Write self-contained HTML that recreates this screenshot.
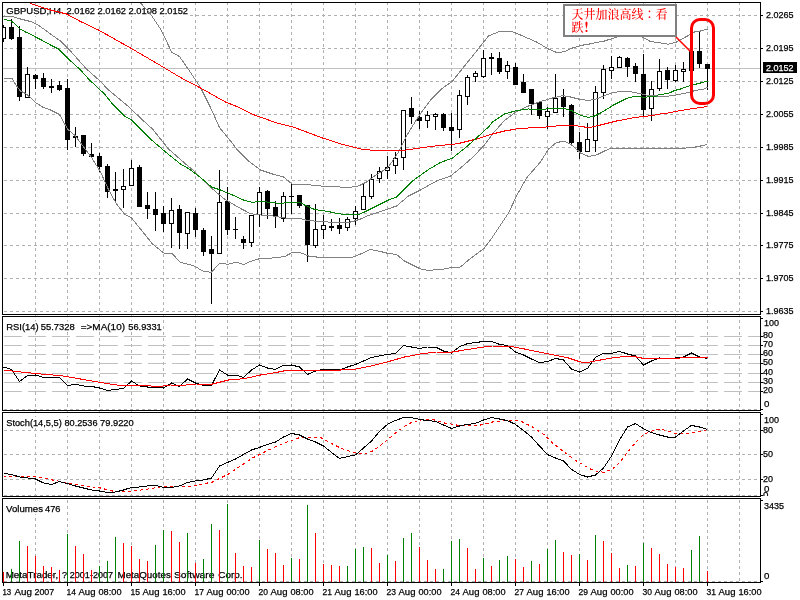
<!DOCTYPE html>
<html><head><meta charset="utf-8"><title>GBPUSD,H4</title>
<style>html,body{margin:0;padding:0;background:#fff}body{width:800px;height:600px;overflow:hidden}svg{display:block}text{font-family:"Liberation Sans","Noto Sans CJK SC",sans-serif;font-size:9.7px;fill:#000;stroke:#000;stroke-width:0.25px}.cn{font-family:"Liberation Serif","Noto Serif CJK SC",serif;font-size:12px;fill:#f00;font-weight:500;stroke:none}.jp{font-family:"Liberation Serif","Noto Serif CJK JP","Noto Serif CJK SC",serif}</style></head><body>
<svg width="800" height="600" viewBox="0 0 800 600">
<rect width="800" height="600" fill="#fff"/>
<g shape-rendering="crispEdges" stroke="#b0b0b0" stroke-width="1" stroke-dasharray="3 3" fill="none">
<line x1="35.5" y1="2" x2="35.5" y2="582"/>
<line x1="67.5" y1="2" x2="67.5" y2="582"/>
<line x1="99.5" y1="2" x2="99.5" y2="582"/>
<line x1="131.5" y1="2" x2="131.5" y2="582"/>
<line x1="163.5" y1="2" x2="163.5" y2="582"/>
<line x1="195.5" y1="2" x2="195.5" y2="582"/>
<line x1="227.5" y1="2" x2="227.5" y2="582"/>
<line x1="259.5" y1="2" x2="259.5" y2="582"/>
<line x1="291.5" y1="2" x2="291.5" y2="582"/>
<line x1="323.5" y1="2" x2="323.5" y2="582"/>
<line x1="355.5" y1="2" x2="355.5" y2="582"/>
<line x1="387.5" y1="2" x2="387.5" y2="582"/>
<line x1="419.5" y1="2" x2="419.5" y2="582"/>
<line x1="451.5" y1="2" x2="451.5" y2="582"/>
<line x1="483.5" y1="2" x2="483.5" y2="582"/>
<line x1="515.5" y1="2" x2="515.5" y2="582"/>
<line x1="547.5" y1="2" x2="547.5" y2="582"/>
<line x1="579.5" y1="2" x2="579.5" y2="582"/>
<line x1="611.5" y1="2" x2="611.5" y2="582"/>
<line x1="643.5" y1="2" x2="643.5" y2="582"/>
<line x1="675.5" y1="2" x2="675.5" y2="582"/>
<line x1="707.5" y1="2" x2="707.5" y2="582"/>
<line x1="739.5" y1="2" x2="739.5" y2="582"/>
<line x1="4" y1="15.5" x2="760" y2="15.5"/>
<line x1="4" y1="48.5" x2="760" y2="48.5"/>
<line x1="4" y1="81.5" x2="760" y2="81.5"/>
<line x1="4" y1="114.5" x2="760" y2="114.5"/>
<line x1="4" y1="147.5" x2="760" y2="147.5"/>
<line x1="4" y1="180.5" x2="760" y2="180.5"/>
<line x1="4" y1="213.5" x2="760" y2="213.5"/>
<line x1="4" y1="245.5" x2="760" y2="245.5"/>
<line x1="4" y1="278.5" x2="760" y2="278.5"/>
<line x1="4" y1="311.5" x2="760" y2="311.5"/>
<line x1="4" y1="430.5" x2="760" y2="430.5"/>
<line x1="4" y1="454.5" x2="760" y2="454.5"/>
<line x1="4" y1="479.5" x2="760" y2="479.5"/>
<line x1="4" y1="495.5" x2="760" y2="495.5"/>
<line x1="4" y1="409.5" x2="760" y2="409.5"/>
<line x1="4" y1="581.5" x2="760" y2="581.5"/>
</g>
<g shape-rendering="crispEdges" stroke="#c0c0c0" stroke-width="1" stroke-dasharray="18 6" fill="none">
<line x1="4" y1="336.5" x2="760" y2="336.5"/>
<line x1="4" y1="345.5" x2="760" y2="345.5"/>
<line x1="4" y1="354.5" x2="760" y2="354.5"/>
<line x1="4" y1="363.5" x2="760" y2="363.5"/>
<line x1="4" y1="373.5" x2="760" y2="373.5"/>
<line x1="4" y1="382.5" x2="760" y2="382.5"/>
<line x1="4" y1="391.5" x2="760" y2="391.5"/>
</g>
<line x1="3" y1="68.5" x2="760" y2="68.5" stroke="#c0c0c0" stroke-width="1" shape-rendering="crispEdges"/>
<rect x="5" y="5" width="184" height="11" fill="#fff"/>
<text y="13.5" ><tspan x="6.25" textLength="55" lengthAdjust="spacingAndGlyphs">GBPUSD,H4</tspan> <tspan x="66.5" textLength="28.5" lengthAdjust="spacingAndGlyphs">2.0162</tspan> <tspan x="97.5" textLength="28.5" lengthAdjust="spacingAndGlyphs">2.0162</tspan> <tspan x="128.5" textLength="28.5" lengthAdjust="spacingAndGlyphs">2.0108</tspan> <tspan x="159.5" textLength="28.5" lengthAdjust="spacingAndGlyphs">2.0152</tspan></text>
<text y="578" ><tspan x="5.7" textLength="52.6" lengthAdjust="spacingAndGlyphs">MetaTrader,</tspan> <tspan x="62" textLength="5" lengthAdjust="spacingAndGlyphs">?</tspan> <tspan x="69.8" textLength="43.2" lengthAdjust="spacingAndGlyphs">2001-2007</tspan> <tspan x="117.5" textLength="53.3" lengthAdjust="spacingAndGlyphs">MetaQuotes</tspan> <tspan x="173.9" textLength="40.6" lengthAdjust="spacingAndGlyphs">Software</tspan> <tspan x="218.25" textLength="24.25" lengthAdjust="spacingAndGlyphs">Corp.</tspan></text>
<g shape-rendering="crispEdges">
<rect x="3" y="572" width="1" height="10" fill="#ff0000"/>
<rect x="11" y="569" width="1" height="13" fill="#008000"/>
<rect x="19" y="541" width="1" height="41" fill="#008000"/>
<rect x="27" y="546" width="1" height="36" fill="#ff0000"/>
<rect x="35" y="556" width="1" height="26" fill="#ff0000"/>
<rect x="43" y="566" width="1" height="16" fill="#ff0000"/>
<rect x="51" y="567" width="1" height="15" fill="#ff0000"/>
<rect x="59" y="570" width="1" height="12" fill="#ff0000"/>
<rect x="67" y="534" width="1" height="48" fill="#008000"/>
<rect x="75" y="546" width="1" height="36" fill="#ff0000"/>
<rect x="83" y="554" width="1" height="28" fill="#ff0000"/>
<rect x="91" y="570" width="1" height="12" fill="#ff0000"/>
<rect x="99" y="566" width="1" height="16" fill="#008000"/>
<rect x="107" y="561" width="1" height="21" fill="#008000"/>
<rect x="115" y="537" width="1" height="45" fill="#008000"/>
<rect x="123" y="543" width="1" height="39" fill="#ff0000"/>
<rect x="131" y="546" width="1" height="36" fill="#ff0000"/>
<rect x="139" y="559" width="1" height="23" fill="#ff0000"/>
<rect x="147" y="561" width="1" height="21" fill="#ff0000"/>
<rect x="155" y="545" width="1" height="37" fill="#008000"/>
<rect x="163" y="530" width="1" height="52" fill="#008000"/>
<rect x="171" y="531" width="1" height="51" fill="#ff0000"/>
<rect x="179" y="542" width="1" height="40" fill="#ff0000"/>
<rect x="187" y="533" width="1" height="49" fill="#008000"/>
<rect x="195" y="563" width="1" height="19" fill="#ff0000"/>
<rect x="203" y="559" width="1" height="23" fill="#008000"/>
<rect x="211" y="524" width="1" height="58" fill="#008000"/>
<rect x="219" y="530" width="1" height="52" fill="#ff0000"/>
<rect x="227" y="504" width="1" height="78" fill="#008000"/>
<rect x="235" y="553" width="1" height="29" fill="#ff0000"/>
<rect x="243" y="566" width="1" height="16" fill="#ff0000"/>
<rect x="251" y="567" width="1" height="15" fill="#ff0000"/>
<rect x="259" y="540" width="1" height="42" fill="#008000"/>
<rect x="267" y="549" width="1" height="33" fill="#ff0000"/>
<rect x="275" y="553" width="1" height="29" fill="#ff0000"/>
<rect x="283" y="565" width="1" height="17" fill="#ff0000"/>
<rect x="291" y="558" width="1" height="24" fill="#008000"/>
<rect x="299" y="559" width="1" height="23" fill="#ff0000"/>
<rect x="307" y="505" width="1" height="77" fill="#008000"/>
<rect x="315" y="533" width="1" height="49" fill="#ff0000"/>
<rect x="323" y="564" width="1" height="18" fill="#ff0000"/>
<rect x="331" y="565" width="1" height="17" fill="#ff0000"/>
<rect x="339" y="566" width="1" height="16" fill="#ff0000"/>
<rect x="347" y="566" width="1" height="16" fill="#008000"/>
<rect x="355" y="549" width="1" height="33" fill="#008000"/>
<rect x="363" y="547" width="1" height="35" fill="#008000"/>
<rect x="371" y="548" width="1" height="34" fill="#ff0000"/>
<rect x="379" y="563" width="1" height="19" fill="#ff0000"/>
<rect x="387" y="555" width="1" height="27" fill="#008000"/>
<rect x="395" y="561" width="1" height="21" fill="#ff0000"/>
<rect x="403" y="538" width="1" height="44" fill="#008000"/>
<rect x="411" y="533" width="1" height="49" fill="#008000"/>
<rect x="419" y="547" width="1" height="35" fill="#ff0000"/>
<rect x="427" y="560" width="1" height="22" fill="#ff0000"/>
<rect x="435" y="569" width="1" height="13" fill="#ff0000"/>
<rect x="443" y="569" width="1" height="13" fill="#008000"/>
<rect x="451" y="541" width="1" height="41" fill="#008000"/>
<rect x="459" y="539" width="1" height="43" fill="#008000"/>
<rect x="467" y="548" width="1" height="34" fill="#ff0000"/>
<rect x="475" y="569" width="1" height="13" fill="#ff0000"/>
<rect x="483" y="558" width="1" height="24" fill="#008000"/>
<rect x="491" y="566" width="1" height="16" fill="#ff0000"/>
<rect x="499" y="560" width="1" height="22" fill="#008000"/>
<rect x="507" y="556" width="1" height="26" fill="#008000"/>
<rect x="515" y="559" width="1" height="23" fill="#ff0000"/>
<rect x="523" y="567" width="1" height="15" fill="#ff0000"/>
<rect x="531" y="561" width="1" height="21" fill="#008000"/>
<rect x="539" y="564" width="1" height="18" fill="#ff0000"/>
<rect x="547" y="549" width="1" height="33" fill="#008000"/>
<rect x="555" y="540" width="1" height="42" fill="#008000"/>
<rect x="563" y="552" width="1" height="30" fill="#ff0000"/>
<rect x="571" y="555" width="1" height="27" fill="#ff0000"/>
<rect x="579" y="554" width="1" height="28" fill="#008000"/>
<rect x="587" y="560" width="1" height="22" fill="#ff0000"/>
<rect x="595" y="535" width="1" height="47" fill="#008000"/>
<rect x="603" y="541" width="1" height="41" fill="#ff0000"/>
<rect x="611" y="553" width="1" height="29" fill="#ff0000"/>
<rect x="619" y="568" width="1" height="14" fill="#ff0000"/>
<rect x="627" y="565" width="1" height="17" fill="#008000"/>
<rect x="635" y="566" width="1" height="16" fill="#ff0000"/>
<rect x="643" y="543" width="1" height="39" fill="#008000"/>
<rect x="651" y="548" width="1" height="34" fill="#ff0000"/>
<rect x="659" y="554" width="1" height="28" fill="#ff0000"/>
<rect x="667" y="564" width="1" height="18" fill="#ff0000"/>
<rect x="675" y="567" width="1" height="15" fill="#ff0000"/>
<rect x="683" y="568" width="1" height="14" fill="#ff0000"/>
<rect x="691" y="550" width="1" height="32" fill="#008000"/>
<rect x="699" y="536" width="1" height="46" fill="#008000"/>
<rect x="707" y="571" width="1" height="11" fill="#ff0000"/>
</g>
<clipPath id="cm"><rect x="3" y="3" width="757" height="311"/></clipPath>
<g clip-path="url(#cm)">
<g shape-rendering="crispEdges">
<rect x="3" y="25" width="1" height="17" fill="#000"/>
<rect x="1" y="27" width="5" height="12" fill="#000"/>
<rect x="2" y="28" width="3" height="10" fill="#fff"/>
<rect x="11" y="19" width="1" height="21" fill="#000"/>
<rect x="9" y="27" width="5" height="12" fill="#000"/>
<rect x="19" y="26" width="1" height="75" fill="#000"/>
<rect x="17" y="37" width="5" height="60" fill="#000"/>
<rect x="27" y="67" width="1" height="31" fill="#000"/>
<rect x="25" y="74" width="5" height="24" fill="#000"/>
<rect x="26" y="75" width="3" height="22" fill="#fff"/>
<rect x="35" y="74" width="1" height="15" fill="#000"/>
<rect x="33" y="75" width="5" height="4" fill="#000"/>
<rect x="43" y="73" width="1" height="16" fill="#000"/>
<rect x="41" y="78" width="5" height="9" fill="#000"/>
<rect x="51" y="79" width="1" height="14" fill="#000"/>
<rect x="49" y="86" width="5" height="2" fill="#000"/>
<rect x="59" y="81" width="1" height="10" fill="#000"/>
<rect x="57" y="85" width="5" height="5" fill="#000"/>
<rect x="67" y="79" width="1" height="71" fill="#000"/>
<rect x="65" y="88" width="5" height="52" fill="#000"/>
<rect x="75" y="127" width="1" height="20" fill="#000"/>
<rect x="73" y="136" width="5" height="2" fill="#000"/>
<rect x="83" y="135" width="1" height="21" fill="#000"/>
<rect x="81" y="135" width="5" height="19" fill="#000"/>
<rect x="91" y="143" width="1" height="15" fill="#000"/>
<rect x="89" y="154" width="5" height="3" fill="#000"/>
<rect x="99" y="153" width="1" height="19" fill="#000"/>
<rect x="97" y="156" width="5" height="11" fill="#000"/>
<rect x="107" y="164" width="1" height="34" fill="#000"/>
<rect x="105" y="166" width="5" height="26" fill="#000"/>
<rect x="115" y="172" width="1" height="31" fill="#000"/>
<rect x="113" y="189" width="5" height="2" fill="#000"/>
<rect x="123" y="169" width="1" height="39" fill="#000"/>
<rect x="121" y="186" width="5" height="4" fill="#000"/>
<rect x="122" y="187" width="3" height="2" fill="#fff"/>
<rect x="131" y="160" width="1" height="26" fill="#000"/>
<rect x="129" y="168" width="5" height="18" fill="#000"/>
<rect x="130" y="169" width="3" height="16" fill="#fff"/>
<rect x="139" y="165" width="1" height="42" fill="#000"/>
<rect x="137" y="167" width="5" height="40" fill="#000"/>
<rect x="147" y="192" width="1" height="27" fill="#000"/>
<rect x="145" y="205" width="5" height="4" fill="#000"/>
<rect x="155" y="192" width="1" height="39" fill="#000"/>
<rect x="153" y="209" width="5" height="6" fill="#000"/>
<rect x="163" y="206" width="1" height="26" fill="#000"/>
<rect x="161" y="213" width="5" height="11" fill="#000"/>
<rect x="171" y="198" width="1" height="50" fill="#000"/>
<rect x="169" y="210" width="5" height="14" fill="#000"/>
<rect x="170" y="211" width="3" height="12" fill="#fff"/>
<rect x="179" y="205" width="1" height="44" fill="#000"/>
<rect x="177" y="209" width="5" height="24" fill="#000"/>
<rect x="187" y="212" width="1" height="37" fill="#000"/>
<rect x="185" y="212" width="5" height="22" fill="#000"/>
<rect x="186" y="213" width="3" height="20" fill="#fff"/>
<rect x="195" y="208" width="1" height="29" fill="#000"/>
<rect x="193" y="213" width="5" height="17" fill="#000"/>
<rect x="203" y="228" width="1" height="28" fill="#000"/>
<rect x="201" y="230" width="5" height="22" fill="#000"/>
<rect x="211" y="236" width="1" height="68" fill="#000"/>
<rect x="209" y="249" width="5" height="5" fill="#000"/>
<rect x="219" y="170" width="1" height="84" fill="#000"/>
<rect x="217" y="202" width="5" height="52" fill="#000"/>
<rect x="218" y="203" width="3" height="50" fill="#fff"/>
<rect x="227" y="187" width="1" height="48" fill="#000"/>
<rect x="225" y="201" width="5" height="29" fill="#000"/>
<rect x="235" y="217" width="1" height="22" fill="#000"/>
<rect x="233" y="229" width="5" height="1" fill="#000"/>
<rect x="243" y="236" width="1" height="13" fill="#000"/>
<rect x="241" y="239" width="5" height="4" fill="#000"/>
<rect x="251" y="215" width="1" height="32" fill="#000"/>
<rect x="249" y="215" width="5" height="28" fill="#000"/>
<rect x="250" y="216" width="3" height="26" fill="#fff"/>
<rect x="259" y="187" width="1" height="40" fill="#000"/>
<rect x="257" y="192" width="5" height="23" fill="#000"/>
<rect x="258" y="193" width="3" height="21" fill="#fff"/>
<rect x="267" y="190" width="1" height="29" fill="#000"/>
<rect x="265" y="191" width="5" height="18" fill="#000"/>
<rect x="275" y="201" width="1" height="27" fill="#000"/>
<rect x="273" y="207" width="5" height="10" fill="#000"/>
<rect x="283" y="192" width="1" height="30" fill="#000"/>
<rect x="281" y="196" width="5" height="23" fill="#000"/>
<rect x="282" y="197" width="3" height="21" fill="#fff"/>
<rect x="291" y="184" width="1" height="30" fill="#000"/>
<rect x="289" y="196" width="5" height="1" fill="#000"/>
<rect x="299" y="195" width="1" height="13" fill="#000"/>
<rect x="297" y="195" width="5" height="11" fill="#000"/>
<rect x="307" y="205" width="1" height="57" fill="#000"/>
<rect x="305" y="205" width="5" height="40" fill="#000"/>
<rect x="315" y="204" width="1" height="44" fill="#000"/>
<rect x="313" y="229" width="5" height="17" fill="#000"/>
<rect x="314" y="230" width="3" height="15" fill="#fff"/>
<rect x="323" y="215" width="1" height="24" fill="#000"/>
<rect x="321" y="225" width="5" height="5" fill="#000"/>
<rect x="322" y="226" width="3" height="3" fill="#fff"/>
<rect x="331" y="219" width="1" height="12" fill="#000"/>
<rect x="329" y="226" width="5" height="2" fill="#000"/>
<rect x="339" y="218" width="1" height="16" fill="#000"/>
<rect x="337" y="225" width="5" height="4" fill="#000"/>
<rect x="347" y="217" width="1" height="14" fill="#000"/>
<rect x="345" y="219" width="5" height="9" fill="#000"/>
<rect x="346" y="220" width="3" height="7" fill="#fff"/>
<rect x="355" y="206" width="1" height="19" fill="#000"/>
<rect x="353" y="211" width="5" height="8" fill="#000"/>
<rect x="354" y="212" width="3" height="6" fill="#fff"/>
<rect x="363" y="184" width="1" height="26" fill="#000"/>
<rect x="361" y="196" width="5" height="14" fill="#000"/>
<rect x="362" y="197" width="3" height="12" fill="#fff"/>
<rect x="371" y="174" width="1" height="25" fill="#000"/>
<rect x="369" y="179" width="5" height="18" fill="#000"/>
<rect x="370" y="180" width="3" height="16" fill="#fff"/>
<rect x="379" y="167" width="1" height="16" fill="#000"/>
<rect x="377" y="171" width="5" height="8" fill="#000"/>
<rect x="378" y="172" width="3" height="6" fill="#fff"/>
<rect x="387" y="156" width="1" height="23" fill="#000"/>
<rect x="385" y="167" width="5" height="4" fill="#000"/>
<rect x="386" y="168" width="3" height="2" fill="#fff"/>
<rect x="395" y="152" width="1" height="22" fill="#000"/>
<rect x="393" y="158" width="5" height="8" fill="#000"/>
<rect x="394" y="159" width="3" height="6" fill="#fff"/>
<rect x="403" y="110" width="1" height="60" fill="#000"/>
<rect x="401" y="110" width="5" height="48" fill="#000"/>
<rect x="402" y="111" width="3" height="46" fill="#fff"/>
<rect x="411" y="97" width="1" height="27" fill="#000"/>
<rect x="409" y="108" width="5" height="9" fill="#000"/>
<rect x="419" y="111" width="1" height="18" fill="#000"/>
<rect x="417" y="117" width="5" height="4" fill="#000"/>
<rect x="427" y="111" width="1" height="17" fill="#000"/>
<rect x="425" y="115" width="5" height="6" fill="#000"/>
<rect x="426" y="116" width="3" height="4" fill="#fff"/>
<rect x="435" y="113" width="1" height="17" fill="#000"/>
<rect x="433" y="114" width="5" height="3" fill="#000"/>
<rect x="434" y="115" width="3" height="1" fill="#fff"/>
<rect x="443" y="113" width="1" height="18" fill="#000"/>
<rect x="441" y="114" width="5" height="14" fill="#000"/>
<rect x="451" y="113" width="1" height="38" fill="#000"/>
<rect x="449" y="127" width="5" height="4" fill="#000"/>
<rect x="459" y="90" width="1" height="48" fill="#000"/>
<rect x="457" y="95" width="5" height="35" fill="#000"/>
<rect x="458" y="96" width="3" height="33" fill="#fff"/>
<rect x="467" y="75" width="1" height="30" fill="#000"/>
<rect x="465" y="77" width="5" height="20" fill="#000"/>
<rect x="466" y="78" width="3" height="18" fill="#fff"/>
<rect x="475" y="71" width="1" height="11" fill="#000"/>
<rect x="473" y="73" width="5" height="4" fill="#000"/>
<rect x="474" y="74" width="3" height="2" fill="#fff"/>
<rect x="483" y="50" width="1" height="28" fill="#000"/>
<rect x="481" y="58" width="5" height="19" fill="#000"/>
<rect x="482" y="59" width="3" height="17" fill="#fff"/>
<rect x="491" y="53" width="1" height="22" fill="#000"/>
<rect x="489" y="57" width="5" height="2" fill="#000"/>
<rect x="499" y="52" width="1" height="22" fill="#000"/>
<rect x="497" y="58" width="5" height="14" fill="#000"/>
<rect x="507" y="61" width="1" height="18" fill="#000"/>
<rect x="505" y="65" width="5" height="7" fill="#000"/>
<rect x="506" y="66" width="3" height="5" fill="#fff"/>
<rect x="515" y="63" width="1" height="22" fill="#000"/>
<rect x="513" y="67" width="5" height="18" fill="#000"/>
<rect x="523" y="74" width="1" height="19" fill="#000"/>
<rect x="521" y="82" width="5" height="11" fill="#000"/>
<rect x="531" y="89" width="1" height="26" fill="#000"/>
<rect x="529" y="89" width="5" height="15" fill="#000"/>
<rect x="539" y="101" width="1" height="18" fill="#000"/>
<rect x="537" y="102" width="5" height="14" fill="#000"/>
<rect x="547" y="107" width="1" height="22" fill="#000"/>
<rect x="545" y="111" width="5" height="6" fill="#000"/>
<rect x="546" y="112" width="3" height="4" fill="#fff"/>
<rect x="555" y="74" width="1" height="39" fill="#000"/>
<rect x="553" y="98" width="5" height="15" fill="#000"/>
<rect x="554" y="99" width="3" height="13" fill="#fff"/>
<rect x="563" y="89" width="1" height="28" fill="#000"/>
<rect x="561" y="97" width="5" height="10" fill="#000"/>
<rect x="571" y="104" width="1" height="40" fill="#000"/>
<rect x="569" y="105" width="5" height="38" fill="#000"/>
<rect x="579" y="132" width="1" height="27" fill="#000"/>
<rect x="577" y="142" width="5" height="10" fill="#000"/>
<rect x="587" y="123" width="1" height="29" fill="#000"/>
<rect x="585" y="139" width="5" height="13" fill="#000"/>
<rect x="586" y="140" width="3" height="11" fill="#fff"/>
<rect x="595" y="86" width="1" height="66" fill="#000"/>
<rect x="593" y="92" width="5" height="49" fill="#000"/>
<rect x="594" y="93" width="3" height="47" fill="#fff"/>
<rect x="603" y="65" width="1" height="34" fill="#000"/>
<rect x="601" y="69" width="5" height="24" fill="#000"/>
<rect x="602" y="70" width="3" height="22" fill="#fff"/>
<rect x="611" y="56" width="1" height="23" fill="#000"/>
<rect x="609" y="67" width="5" height="4" fill="#000"/>
<rect x="610" y="68" width="3" height="2" fill="#fff"/>
<rect x="619" y="56" width="1" height="12" fill="#000"/>
<rect x="617" y="57" width="5" height="11" fill="#000"/>
<rect x="618" y="58" width="3" height="9" fill="#fff"/>
<rect x="627" y="57" width="1" height="20" fill="#000"/>
<rect x="625" y="58" width="5" height="9" fill="#000"/>
<rect x="635" y="63" width="1" height="19" fill="#000"/>
<rect x="633" y="66" width="5" height="8" fill="#000"/>
<rect x="643" y="54" width="1" height="62" fill="#000"/>
<rect x="641" y="74" width="5" height="36" fill="#000"/>
<rect x="651" y="81" width="1" height="40" fill="#000"/>
<rect x="649" y="89" width="5" height="20" fill="#000"/>
<rect x="650" y="90" width="3" height="18" fill="#fff"/>
<rect x="659" y="59" width="1" height="32" fill="#000"/>
<rect x="657" y="71" width="5" height="18" fill="#000"/>
<rect x="658" y="72" width="3" height="16" fill="#fff"/>
<rect x="667" y="67" width="1" height="22" fill="#000"/>
<rect x="665" y="70" width="5" height="10" fill="#000"/>
<rect x="675" y="65" width="1" height="17" fill="#000"/>
<rect x="673" y="70" width="5" height="11" fill="#000"/>
<rect x="674" y="71" width="3" height="9" fill="#fff"/>
<rect x="683" y="62" width="1" height="20" fill="#000"/>
<rect x="681" y="69" width="5" height="3" fill="#000"/>
<rect x="682" y="70" width="3" height="1" fill="#fff"/>
<rect x="691" y="51" width="1" height="20" fill="#000"/>
<rect x="689" y="51" width="5" height="20" fill="#000"/>
<rect x="699" y="31" width="1" height="37" fill="#000"/>
<rect x="697" y="51" width="5" height="13" fill="#000"/>
<rect x="707" y="64" width="1" height="26" fill="#000"/>
<rect x="705" y="64" width="5" height="5" fill="#000"/>
</g>
<polyline fill="none" shape-rendering="crispEdges" stroke="#808080" stroke-width="1"  points="140.5,3 150.5,14 160.5,29 165.5,39 171.5,52 179.5,56.5 190.5,72.5 200.5,87.5 210.5,107.5 219.5,127.5 230.5,141 237.5,150 248.5,161 260.5,170 272.5,174 283.5,177 292.5,184.4 306.5,184.6 320.5,186 334.5,186.6 348.5,187.6 358.5,186 366.5,182 374.5,176 382.5,171 387.5,168 390.5,164 398.5,152 406.5,136 413.5,124.5 421.5,112 431.5,99 441.5,89 452.5,81 464.5,66 477.5,50 480.5,46 488.5,36 500.5,31 510.5,31 520.5,35 536.5,42 548.5,49 556.5,52.4 564.5,51.8 572.5,48 580.5,45.5 588.5,44.2 596.5,42.6 604.5,41 612.5,38.4 618.5,36.6 630.5,33.5 642.5,37 650.5,41.5 660.5,43 668.5,44.2 676.5,42 686.5,36.5 694.5,32 700.5,31 707.5,29"/>
<polyline fill="none" shape-rendering="crispEdges" stroke="#808080" stroke-width="1"  points="3.5,78.5 12,78.5 16.5,86 20.5,91 25.5,93.5 30.5,97.5 35.5,102.5 42.5,107 50.5,110 59.5,114.5 62.5,120 67.5,129 75.5,136 84.5,148 92.5,159 100.5,172 108.5,189.5 116.5,204 124.5,214 131.5,218 140.5,229 152.5,244 164.5,253.6 172.5,254 180.5,262.5 193.5,265.5 203.5,271.5 211.5,272.2 219.5,263.2 223.5,263.2 227.5,264.5 234.5,262.5 237.5,262.5 243.5,264.5 250.5,261.5 258.5,259 272.5,258 284.5,256.6 292.5,252.4 300.5,252.7 308.5,256 320.5,257.5 336.5,257.4 352.5,257.4 360.5,254 370.5,249.4 380.5,251.5 388.5,253.5 396.5,254.5 404.5,261 420.5,269 428.5,270.4 444.5,269 452.5,267.4 460.5,267 468.5,260 484.5,248 492.5,237 500.5,225 508.5,213 516.5,196 526.5,178 540.5,162 548.5,149 556.5,142.5 564.5,141.2 572.5,145.5 580.5,153 588.5,156.4 596.5,155 604.5,151 611.5,148 624.5,148 640.5,149 660.5,148.6 680.5,148.4 692.5,147.6 700.5,146 707.5,144.5"/>
<polyline fill="none" shape-rendering="crispEdges" stroke="#808080" stroke-width="1"  points="3.5,16.3 12.5,16.5 20.5,19 30.5,21.5 37.5,24.5 50.5,34 60.5,41 70.5,51 86.5,69 99.5,80.5 108.5,90 128.5,106.5 142.5,120 152.5,129 168.5,149 184.5,163 194.5,171.5 212.5,189 224.5,199 240.5,208.5 250.5,213.6 260.5,215 272.5,216 284.5,218 300.5,218.5 306.5,220.3 320.5,221.6 334.5,222.4 348.5,222.5 354.5,221 360.5,219 368.5,215.5 380.5,211.5 396.5,206 408.5,196 420.5,190 436.5,181 450.5,176 460.5,168 472.5,157.5 484.5,145 492.5,134 504.5,120.5 516.5,111.5 528.5,106 540.5,101.5 552.5,98 562.5,95.6 570.5,97 580.5,99.5 588.5,100.4 596.5,99 604.5,95.7 612.5,92.7 620.5,91.4 630.5,91.7 640.5,93.6 648.5,95.6 656.5,96 666.5,96.3 676.5,95 688.5,92.4 696.5,90.2 704.5,89 707.5,87"/>
<polyline fill="none" shape-rendering="crispEdges" stroke="#ff0000" stroke-width="1"  points="30.5,3.5 50.5,10 66.5,14 80.5,21.5 98.5,30 130.5,48 160.5,65.5 180.5,77.5 200.5,88 225.5,102 238,107 253,114.5 275.5,122.5 293,127 306.5,132 322.5,138 342.5,144.4 362.5,149.4 374.5,150.4 390.5,151 406.5,150 422.5,147.6 438.5,145.6 452.5,144.4 460.5,143 476.5,139 492.5,134 504.5,131 516.5,129 528.5,128 540.5,127.5 552.5,126.4 560.5,125.6 568.5,125.4 575.5,125.6 580.5,126.4 586.5,127.3 590.5,127.3 594.5,126.3 598.5,125.4 600.5,125 608.5,123 616.5,121 624.5,119.5 632.5,118 640.5,116.8 652.5,115.5 660.5,114 668.5,113 680.5,110.6 692.5,108.6 700.5,107.5 707.5,106.6"/>
<polyline fill="none" shape-rendering="crispEdges" stroke="#008000" stroke-width="1"  points="3.5,19.5 6.5,19.5 7.5,20.5 10.5,20.5 15.5,24.3 20.5,29.2 25.5,32 30.5,34.3 35.5,37 40.5,39.5 50.5,45 58.5,49 68.5,59 80.5,70 89.5,80 104.5,94 112.5,104 124.5,116 131.5,120 150.5,139 165.5,152 180.5,164 188.5,168.5 200.5,177.5 211.5,187 220.5,190 232.5,195 244.5,200.5 252.5,202.4 260.5,201.3 270.5,202.4 280.5,203.5 286.5,202.6 300.5,202.6 304.5,205 314.5,209.5 322.5,210.6 330.5,212 337.5,213.5 344.5,214.5 358.5,214.5 364.5,212 376.5,206 388.5,200 396.5,197 412.5,181 428.5,169.5 440.5,162.5 452.5,158 464.5,148.5 476.5,138 488.5,127 492.5,122 504.5,114 516.5,110.6 528.5,109 540.5,109.4 552.5,108.6 564.5,108.4 572.5,111 580.5,115.3 588.5,117.4 594.5,116 600.5,113 606.5,109.5 613.5,105 620.5,101.5 626.5,98.5 633.5,96.5 640.5,96.2 642.5,97.3 646.5,97.3 648.5,96.4 656.5,96.2 658.5,94.5 662.5,94.2 669.5,93 674.5,90.5 680.5,89 690.5,85.5 700.5,83 707.5,81"/>
</g>
<rect x="5" y="321.5" width="157" height="10.5" fill="#fff"/>
<text y="329.5" ><tspan x="6.25" textLength="32.5" lengthAdjust="spacingAndGlyphs">RSI(14)</tspan> <tspan x="40.75" textLength="34" lengthAdjust="spacingAndGlyphs">55.7328</tspan> <tspan x="80.75" textLength="44.25" lengthAdjust="spacingAndGlyphs">=&gt;MA(10)</tspan> <tspan x="128.25" textLength="33.5" lengthAdjust="spacingAndGlyphs">56.9331</tspan></text>
<polyline fill="none" shape-rendering="crispEdges" stroke="#000" stroke-width="1"  points="3.5,367 11.5,369.6 19.5,381.4 27.5,375.6 35.5,375 43.5,377.4 51.5,377.4 59.5,377.4 67.5,385.6 75.5,384.4 83.5,386 91.5,386.4 99.5,388 107.5,390.4 115.5,389.4 123.5,388.4 131.5,381 139.5,386 147.5,387 155.5,387 163.5,388 171.5,383 179.5,386.4 187.5,379 195.5,383 203.5,385.4 211.5,385.4 219.5,370 227.5,375 235.5,375 243.5,377.4 251.5,370 259.5,365 267.5,368 275.5,369.4 283.5,365.4 291.5,365 299.5,367 307.5,374.4 315.5,371 323.5,369.4 331.5,369.4 339.5,370 347.5,367 355.5,364.4 363.5,361 371.5,357.4 379.5,356 387.5,354.4 395.5,353.4 403.5,345.6 411.5,347 419.5,348.4 427.5,347 435.5,347 443.5,351 451.5,353 459.5,346.6 467.5,343.6 475.5,342.6 483.5,341.4 491.5,341.4 499.5,344.4 507.5,345.4 515.5,352 523.5,355 531.5,359 539.5,362.6 547.5,361.6 555.5,358.4 563.5,360 571.5,369 579.5,372 587.5,368.4 595.5,357.4 603.5,353.4 611.5,353.4 619.5,351.4 627.5,354 635.5,356 643.5,365 651.5,361 659.5,358 667.5,359 675.5,358 683.5,357 691.5,353 699.5,357 707.5,358.4"/>
<polyline fill="none" shape-rendering="crispEdges" stroke="#ff0000" stroke-width="1"  points="3.5,370 20.5,372 40.5,374 60.5,375.6 80.5,379 100.5,382.4 116.5,385 128.5,385.8 140.5,385.6 160.5,386.4 170.5,385 180.5,385.6 196.5,384 212.5,384 228.5,380 244.5,378.6 260.5,375 276.5,372.4 288.5,370 304.5,370 320.5,370 340.5,370 356.5,369 372.5,365.6 388.5,361.6 404.5,357 420.5,354 436.5,352 452.5,352 464.5,350 480.5,347.4 492.5,346 508.5,346 524.5,349 540.5,352.4 556.5,355.4 568.5,358 580.5,362 588.5,362.4 600.5,360 612.5,358 624.5,356.4 634.5,356.6 643.5,358.4 660.5,358.4 680.5,358 690.5,357.4 707.5,357.4"/>
<rect x="5" y="417" width="130" height="11" fill="#fff"/>
<text y="426" ><tspan x="6.25" textLength="55.5" lengthAdjust="spacingAndGlyphs">Stoch(14,5,5)</tspan> <tspan x="64.5" textLength="33" lengthAdjust="spacingAndGlyphs">80.2536</tspan> <tspan x="100" textLength="33.75" lengthAdjust="spacingAndGlyphs">79.9220</tspan></text>
<polyline fill="none" shape-rendering="crispEdges" stroke="#ff0000" stroke-width="1" stroke-dasharray="3 3" points="3.5,476 20.5,476.4 36.5,476.6 52.5,480 68.5,483 84.5,486 100.5,488 116.5,492 128.5,491.6 144.5,489.6 160.5,487 176.5,486.6 192.5,486 212.5,482 228.5,474 240.5,466 252.5,458 268.5,450 284.5,443 298.5,438 312.5,437.4 320.5,437.4 328.5,442 340.5,448 352.5,452.4 364.5,454 372.5,451 384.5,442.4 396.5,432 408.5,423.6 420.5,420 432.5,419.4 444.5,423 456.5,425 468.5,425 480.5,425 492.5,422 506.5,420.6 520.5,421 532.5,427 544.5,435 552.5,443 564.5,452.4 576.5,461 588.5,468 594.25,470.75 604,472.25 611.5,469.5 616.75,465.5 622,459.5 626.5,453.5 631.75,447 637.75,440.5 642.7,435.5 648.25,432.2 655,430 661,429.2 667.75,431 674.5,433.25 680.5,434 686.5,433.8 696.5,432 707.5,429.6"/>
<polyline fill="none" shape-rendering="crispEdges" stroke="#000" stroke-width="1"  points="3.5,473.6 11.5,474.4 19.5,477 27.5,478 35.5,479 43.5,483 51.5,484.4 59.5,481.6 67.5,483.6 75.5,486 83.5,488 91.5,490 99.5,491 107.5,492.4 115.5,492 123.5,490 131.5,487.4 139.5,487 147.5,486 155.5,485.4 163.5,487.4 171.5,487.4 179.5,486 187.5,482.4 195.5,481 203.5,480 211.5,478 219.5,466 227.5,462.4 235.5,459 243.5,454.4 251.5,450 259.5,447.4 267.5,444.4 275.5,442 283.5,437 291.5,433.4 299.5,435 307.5,439 315.5,442 323.5,446 331.5,452.4 339.5,458.4 347.5,456.6 355.5,455 363.5,448 371.5,441 379.5,431.4 387.5,424.4 395.5,420.4 403.5,417.6 411.5,417.6 419.5,419.4 427.5,420.6 435.5,421.4 443.5,425 451.5,428.4 459.5,426 467.5,424.4 475.5,423.4 483.5,420 491.5,417.6 499.5,419 507.5,420.6 515.5,424.4 523.5,430.4 531.5,437 539.5,446 547.5,454.6 555.5,458 563.5,461 571.5,469.4 579.5,474.4 587.5,477 595.5,475 603.5,468 611.5,456 619.5,440 627.5,427 635.5,423.6 643.5,428.6 651.5,432.6 659.5,435 667.5,437 675.5,437 683.5,431 691.5,425.4 699.5,427 707.5,429.4"/>
<rect x="5" y="501" width="57" height="13" fill="#fff"/>
<text y="511.5" ><tspan x="6.1" textLength="36.9" lengthAdjust="spacingAndGlyphs">Volumes</tspan> <tspan x="45" textLength="15.5" lengthAdjust="spacingAndGlyphs">476</tspan></text>
<g shape-rendering="crispEdges" fill="#000">
<rect x="2" y="2" width="759" height="1"/>
<rect x="2" y="314" width="759" height="1"/>
<rect x="2" y="2" width="1" height="313"/>
<rect x="760" y="2" width="1" height="313"/>
<rect x="2" y="316" width="759" height="1"/>
<rect x="2" y="410" width="759" height="1"/>
<rect x="2" y="316" width="1" height="95"/>
<rect x="760" y="316" width="1" height="95"/>
<rect x="2" y="412" width="759" height="1"/>
<rect x="2" y="496" width="759" height="1"/>
<rect x="2" y="412" width="1" height="85"/>
<rect x="760" y="412" width="1" height="85"/>
<rect x="2" y="498" width="759" height="1"/>
<rect x="2" y="498" width="1" height="85"/>
<rect x="760" y="498" width="1" height="85"/>
<rect x="2" y="582" width="759" height="1"/>
<rect x="761" y="15" width="2" height="1"/>
<rect x="761" y="48" width="2" height="1"/>
<rect x="761" y="81" width="2" height="1"/>
<rect x="761" y="114" width="2" height="1"/>
<rect x="761" y="147" width="2" height="1"/>
<rect x="761" y="180" width="2" height="1"/>
<rect x="761" y="213" width="2" height="1"/>
<rect x="761" y="245" width="2" height="1"/>
<rect x="761" y="278" width="2" height="1"/>
<rect x="761" y="311" width="2" height="1"/>
<rect x="761" y="318" width="2" height="1"/>
<rect x="761" y="409" width="2" height="1"/>
<rect x="761" y="414" width="2" height="1"/>
<rect x="761" y="495" width="2" height="1"/>
<rect x="761" y="500" width="2" height="1"/>
<rect x="761" y="581" width="2" height="1"/>
<rect x="761" y="336" width="2" height="1"/>
<rect x="761" y="345" width="2" height="1"/>
<rect x="761" y="354" width="2" height="1"/>
<rect x="761" y="363" width="2" height="1"/>
<rect x="761" y="373" width="2" height="1"/>
<rect x="761" y="382" width="2" height="1"/>
<rect x="761" y="391" width="2" height="1"/>
<rect x="761" y="430" width="2" height="1"/>
<rect x="761" y="454" width="2" height="1"/>
<rect x="761" y="479" width="2" height="1"/>
<rect x="3" y="583" width="1" height="3"/>
<rect x="67" y="583" width="1" height="3"/>
<rect x="131" y="583" width="1" height="3"/>
<rect x="195" y="583" width="1" height="3"/>
<rect x="259" y="583" width="1" height="3"/>
<rect x="323" y="583" width="1" height="3"/>
<rect x="387" y="583" width="1" height="3"/>
<rect x="451" y="583" width="1" height="3"/>
<rect x="515" y="583" width="1" height="3"/>
<rect x="579" y="583" width="1" height="3"/>
<rect x="643" y="583" width="1" height="3"/>
<rect x="707" y="583" width="1" height="3"/>
</g>
<text x="766" y="17.8" textLength="27.5" lengthAdjust="spacingAndGlyphs">2.0265</text>
<text x="766" y="50.8" textLength="27.5" lengthAdjust="spacingAndGlyphs">2.0195</text>
<text x="766" y="83.8" textLength="27.5" lengthAdjust="spacingAndGlyphs">2.0125</text>
<text x="766" y="116.8" textLength="27.5" lengthAdjust="spacingAndGlyphs">2.0055</text>
<text x="766" y="149.8" textLength="27.5" lengthAdjust="spacingAndGlyphs">1.9985</text>
<text x="766" y="182.8" textLength="27.5" lengthAdjust="spacingAndGlyphs">1.9915</text>
<text x="766" y="215.8" textLength="27.5" lengthAdjust="spacingAndGlyphs">1.9845</text>
<text x="766" y="247.8" textLength="27.5" lengthAdjust="spacingAndGlyphs">1.9775</text>
<text x="766" y="280.8" textLength="27.5" lengthAdjust="spacingAndGlyphs">1.9705</text>
<text x="766" y="313.8" textLength="27.5" lengthAdjust="spacingAndGlyphs">1.9635</text>
<rect x="763" y="62" width="34" height="11" fill="#000" shape-rendering="crispEdges"/>
<text x="766" y="71" style="fill:#fff;stroke:#fff" textLength="27.5" lengthAdjust="spacingAndGlyphs">2.0152</text>
<text x="764" y="326.3" textLength="15" lengthAdjust="spacingAndGlyphs">100</text>
<text x="763" y="338.1" textLength="10" lengthAdjust="spacingAndGlyphs">80</text>
<text x="763" y="347.1" textLength="10" lengthAdjust="spacingAndGlyphs">70</text>
<text x="763" y="356.1" textLength="10" lengthAdjust="spacingAndGlyphs">60</text>
<text x="763" y="365.1" textLength="10" lengthAdjust="spacingAndGlyphs">50</text>
<text x="763" y="375.1" textLength="10" lengthAdjust="spacingAndGlyphs">40</text>
<text x="763" y="384.1" textLength="10" lengthAdjust="spacingAndGlyphs">30</text>
<text x="763" y="393.1" textLength="10" lengthAdjust="spacingAndGlyphs">20</text>
<text x="764" y="406.5">0</text>
<text x="764" y="422.8" textLength="15" lengthAdjust="spacingAndGlyphs">100</text>
<text x="763" y="432.5" textLength="10" lengthAdjust="spacingAndGlyphs">80</text>
<text x="763" y="456.5" textLength="10" lengthAdjust="spacingAndGlyphs">50</text>
<text x="763" y="481.5" textLength="10" lengthAdjust="spacingAndGlyphs">20</text>
<text x="764" y="492">0</text>
<clipPath id="c0"><rect x="760" y="480" width="40" height="16"/></clipPath>
<text x="763" y="498.3" clip-path="url(#c0)">0</text>
<text x="764" y="509" textLength="20" lengthAdjust="spacingAndGlyphs">3435</text>
<text x="764" y="579">0</text>
<text y="595" ><tspan x="2.5" textLength="8.75" lengthAdjust="spacingAndGlyphs">13</tspan> <tspan x="14.5" textLength="17.5" lengthAdjust="spacingAndGlyphs">Aug</tspan> <tspan x="34.5" textLength="19.75" lengthAdjust="spacingAndGlyphs">2007</tspan></text>
<text y="595" ><tspan x="66.5" textLength="9.5" lengthAdjust="spacingAndGlyphs">14</tspan> <tspan x="78.5" textLength="17" lengthAdjust="spacingAndGlyphs">Aug</tspan> <tspan x="98.5" textLength="23" lengthAdjust="spacingAndGlyphs">08:00</tspan></text>
<text y="595" ><tspan x="130.5" textLength="9.5" lengthAdjust="spacingAndGlyphs">15</tspan> <tspan x="142.5" textLength="17" lengthAdjust="spacingAndGlyphs">Aug</tspan> <tspan x="162.5" textLength="23" lengthAdjust="spacingAndGlyphs">16:00</tspan></text>
<text y="595" ><tspan x="194.5" textLength="9.5" lengthAdjust="spacingAndGlyphs">17</tspan> <tspan x="206.5" textLength="17" lengthAdjust="spacingAndGlyphs">Aug</tspan> <tspan x="226.5" textLength="23" lengthAdjust="spacingAndGlyphs">00:00</tspan></text>
<text y="595" ><tspan x="258.5" textLength="9.5" lengthAdjust="spacingAndGlyphs">20</tspan> <tspan x="270.5" textLength="17" lengthAdjust="spacingAndGlyphs">Aug</tspan> <tspan x="290.5" textLength="23" lengthAdjust="spacingAndGlyphs">08:00</tspan></text>
<text y="595" ><tspan x="322.5" textLength="9.5" lengthAdjust="spacingAndGlyphs">21</tspan> <tspan x="334.5" textLength="17" lengthAdjust="spacingAndGlyphs">Aug</tspan> <tspan x="354.5" textLength="23" lengthAdjust="spacingAndGlyphs">16:00</tspan></text>
<text y="595" ><tspan x="386.5" textLength="9.5" lengthAdjust="spacingAndGlyphs">23</tspan> <tspan x="398.5" textLength="17" lengthAdjust="spacingAndGlyphs">Aug</tspan> <tspan x="418.5" textLength="23" lengthAdjust="spacingAndGlyphs">00:00</tspan></text>
<text y="595" ><tspan x="450.5" textLength="9.5" lengthAdjust="spacingAndGlyphs">24</tspan> <tspan x="462.5" textLength="17" lengthAdjust="spacingAndGlyphs">Aug</tspan> <tspan x="482.5" textLength="23" lengthAdjust="spacingAndGlyphs">08:00</tspan></text>
<text y="595" ><tspan x="514.5" textLength="9.5" lengthAdjust="spacingAndGlyphs">27</tspan> <tspan x="526.5" textLength="17" lengthAdjust="spacingAndGlyphs">Aug</tspan> <tspan x="546.5" textLength="23" lengthAdjust="spacingAndGlyphs">16:00</tspan></text>
<text y="595" ><tspan x="578.5" textLength="9.5" lengthAdjust="spacingAndGlyphs">29</tspan> <tspan x="590.5" textLength="17" lengthAdjust="spacingAndGlyphs">Aug</tspan> <tspan x="610.5" textLength="23" lengthAdjust="spacingAndGlyphs">00:00</tspan></text>
<text y="595" ><tspan x="642.5" textLength="9.5" lengthAdjust="spacingAndGlyphs">30</tspan> <tspan x="654.5" textLength="17" lengthAdjust="spacingAndGlyphs">Aug</tspan> <tspan x="674.5" textLength="23" lengthAdjust="spacingAndGlyphs">08:00</tspan></text>
<text y="595" ><tspan x="706.5" textLength="9.5" lengthAdjust="spacingAndGlyphs">31</tspan> <tspan x="718.5" textLength="17" lengthAdjust="spacingAndGlyphs">Aug</tspan> <tspan x="738.5" textLength="23" lengthAdjust="spacingAndGlyphs">16:00</tspan></text>
<rect x="691.5" y="19.5" width="22" height="84" rx="8.5" ry="8.5" fill="none" stroke="#ff0000" stroke-width="3"/>
<line x1="675" y1="36" x2="691" y2="52" stroke="#ff0000" stroke-width="1.6"/>
<rect x="564" y="5" width="112" height="31" fill="#fff" stroke="#808080" stroke-width="2" shape-rendering="crispEdges"/>
<text class="cn" x="571.5" y="19">天井加浪高线<tspan class="jp">：</tspan>看</text>
<text class="cn" x="571.5" y="31.5">跌<tspan style="font-weight:900">！</tspan></text>
</svg></body></html>
